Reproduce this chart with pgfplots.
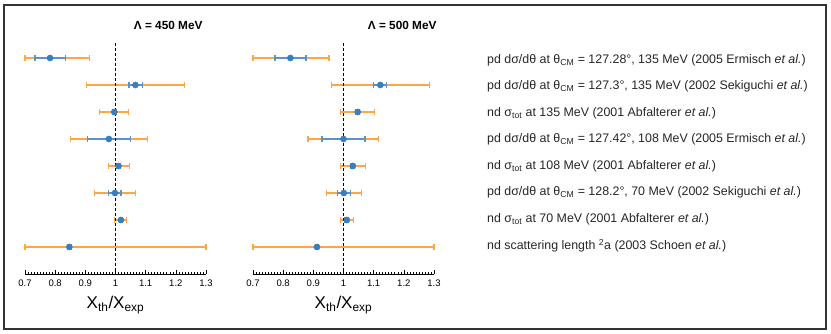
\documentclass[border=0pt]{standalone}
\usepackage{fontspec}
\setmainfont{Liberation Sans}
\usepackage{pgfplots}
\usepackage{pgfplotstable}
\pgfplotsset{compat=1.18}
\definecolor{Dot}{HTML}{3A7EBA}
\definecolor{Bar}{HTML}{5B93C8}
\definecolor{Exp}{HTML}{FFA547}

% row, value, theory errors (minus/plus), experimental errors (minus/plus)
\pgfplotstableread{
row val  tm    tp    em    ep
1  0.783 0.050 0.052 0.083 0.130
2  1.066 0.021 0.023 0.162 0.164
3  0.996 0.007 0.007 0.050 0.048
4  0.978 0.070 0.071 0.127 0.128
5  1.010 0.006 0.006 0.034 0.037
6  0.998 0.021 0.020 0.067 0.068
7  1.018 0.006 0.006 0.021 0.019
8  0.847 0.006 0.006 0.147 0.453
}\lowcut
\pgfplotstableread{
row val  tm    tp    em    ep
1  0.824 0.051 0.052 0.124 0.128
2  1.122 0.022 0.020 0.162 0.162
3  1.047 0.006 0.006 0.058 0.057
4  1.000 0.071 0.071 0.118 0.117
5  1.031 0.006 0.006 0.042 0.042
6  1.001 0.021 0.021 0.057 0.058
7  1.011 0.006 0.006 0.022 0.022
8  0.912 0.006 0.006 0.212 0.388
}\highcut

\pgfplotsset{
  panel/.style={
    anchor=south west, scale only axis,
    width=181pt, height=231pt,
    xmin=0.7, xmax=1.3, ymin=0.4444, ymax=9, y dir=reverse,
    axis x line=bottom, axis y line=none,
    x axis line style={-, line width=0.9pt},
    xtick={0.7,0.8,0.9,1,1.1,1.2,1.3},
    minor x tick num=9,
    tick align=inside,
    major tick length=4pt, minor tick length=2pt,
    tick style={line width=0.6pt, black},
    /pgf/number format/assume math mode=true,
    tick label style={font=\fontsize{9.5}{11}\selectfont, yshift=-2pt},
    xlabel={X\textsubscript{th}/X\textsubscript{exp}},
    xlabel style={at={(axis description cs:0.5,-0.135)}, anchor=center, font=\fontsize{17}{19}\selectfont},
    clip=false,
  },
  expt/.style={only marks, mark=none, color=Exp,
    error bars/.cd, x dir=both, x explicit,
    error bar style={line width=1.9pt, draw=Exp},
    error mark options={rotate=90, mark size=2.8pt, line width=1.2pt, draw=Exp}},
  theo/.style={only marks, mark=*, mark size=3.1pt, color=Dot,
    error bars/.cd, x dir=both, x explicit,
    error bar style={line width=2.2pt, draw=Bar},
    error mark options={rotate=90, mark size=2.8pt, line width=1.2pt, draw=Bar}},
}

\begin{document}
\begin{tikzpicture}
\path (0pt,0pt) rectangle (831pt,334pt);
\draw[line width=1.6pt, black!80] (4pt,5pt) rectangle (826pt,329pt);

% Lambda = 450 MeV
\begin{axis}[panel, at={(25pt,60pt)}]
\addplot[expt] table[x=val, y=row, x error minus=em, x error plus=ep] {\lowcut};
\addplot[theo] table[x=val, y=row, x error minus=tm, x error plus=tp] {\lowcut};
\draw[black, line width=1.8pt, dash pattern=on 3pt off 2pt] (axis cs:1,0.4444) -- (axis cs:1,9);
\end{axis}

% Lambda = 500 MeV
\begin{axis}[panel, at={(253pt,60pt)}]
\addplot[expt] table[x=val, y=row, x error minus=em, x error plus=ep] {\highcut};
\addplot[theo] table[x=val, y=row, x error minus=tm, x error plus=tp] {\highcut};
\draw[black, line width=1.8pt, dash pattern=on 3pt off 2pt] (axis cs:1,0.4444) -- (axis cs:1,9);
\end{axis}

\node[anchor=east, font=\bfseries\fontsize{11.8}{13}\selectfont] at (206pt,309pt) {Λ = 450 MeV};
\node[anchor=east, font=\bfseries\fontsize{11.8}{13}\selectfont] at (440pt,309pt) {Λ = 500 MeV};

\begin{scope}[every node/.style={anchor=west, font=\fontsize{12.4}{14}\selectfont, text=black!85, inner sep=0pt}]
\node at (487pt,274.0pt) {pd dσ/dθ at θ\textsubscript{CM} = 127.28°, 135 MeV (2005 Ermisch \textit{et al.})};
\node at (487pt,247.5pt) {pd dσ/dθ at θ\textsubscript{CM} = 127.3°, 135 MeV (2002 Sekiguchi \textit{et al.})};
\node at (487pt,221.0pt) {nd σ\textsubscript{tot} at 135 MeV (2001 Abfalterer \textit{et al.})};
\node at (487pt,194.5pt) {pd dσ/dθ at θ\textsubscript{CM} = 127.42°, 108 MeV (2005 Ermisch \textit{et al.})};
\node at (487pt,168.0pt) {nd σ\textsubscript{tot} at 108 MeV (2001 Abfalterer \textit{et al.})};
\node at (487pt,141.5pt) {pd dσ/dθ at θ\textsubscript{CM} = 128.2°, 70 MeV (2002 Sekiguchi \textit{et al.})};
\node at (487pt,115.0pt) {nd σ\textsubscript{tot} at 70 MeV (2001 Abfalterer \textit{et al.})};
\node at (487pt,88.5pt) {nd scattering length \textsuperscript{2}a (2003 Schoen \textit{et al.})};
\end{scope}
\end{tikzpicture}
\end{document}
